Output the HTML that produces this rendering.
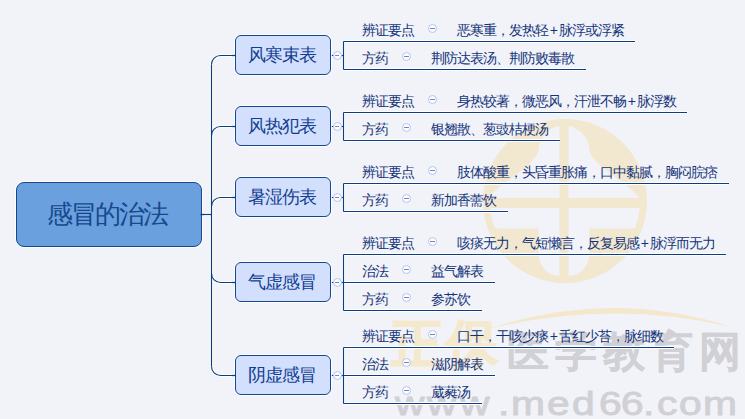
<!DOCTYPE html>
<html><head><meta charset="utf-8">
<style>
html,body{margin:0;padding:0;}
body{width:745px;height:419px;overflow:hidden;background:#f2f3f8;position:relative;font-family:"Liberation Sans",sans-serif;}
.a{position:absolute;white-space:nowrap;}
.node{position:absolute;box-sizing:border-box;border:1.5px solid #15478f;background:#d2dffd;border-radius:6px;color:#123e92;font-size:17px;text-align:center;box-shadow:0 0 0 1px rgba(255,255,255,0.85);}
.t{position:absolute;white-space:nowrap;font-size:14px;letter-spacing:-1px;color:#12337a;line-height:14px;}
.c{position:absolute;box-sizing:border-box;border:1.2px solid #b3c6ef;border-radius:50%;background:#fbfcff;}
.c i{position:absolute;height:1.2px;background:#7d84b6;}
svg{position:absolute;left:0;top:0;}
</style></head><body>

<svg width="745" height="419" viewBox="0 0 745 419">
<defs><clipPath id="inner"><circle cx="565" cy="201" r="75"/></clipPath><clipPath id="disc"><circle cx="565" cy="201" r="82"/></clipPath></defs>
<circle cx="565" cy="201" r="82" fill="#f2e7cf"/>
<g clip-path="url(#inner)" fill="#f2f3f8">
<path d="M538.5 151 A25.5 25.5 0 0 1 589.5 151 C595 168 625 180 640 198 H488 C503 180 533 168 538.5 151 Z"/>
<path d="M480 208 H650 V212 Q650 228.5 630 228.5 H589.5 V253 A25.5 25.5 0 0 1 538.5 253 V228.5 H500 Q480 228.5 480 212 Z"/>
</g>
<g clip-path="url(#disc)" fill="#f2e7cf"><rect x="559.5" y="110" width="9" height="180"/></g>
<path d="M488 329 Q610 288 732 327 Q610 299 488 329 Z" fill="#f3e7cc"/>
</svg>
<div class="a" style="left:391px;top:314px;font-size:52px;line-height:60px;color:#f4e8cd;font-weight:bold;letter-spacing:3px;-webkit-text-stroke:1.5px #f4e8cd;">正保</div>
<div class="a" style="left:507px;top:326px;font-size:42px;line-height:52px;color:#d0d0d5;font-weight:bold;letter-spacing:6px;-webkit-text-stroke:0.3px #d0d0d5;">医学教育网</div>
<div class="a" style="left:394.5px;top:383px;font-size:34px;line-height:40px;color:#d0d0d5;font-weight:normal;-webkit-text-stroke:0.9px #d0d0d5;transform:scaleX(1.2);transform-origin:0 0;">w</div>
<div class="a" style="left:427px;top:383px;font-size:34px;line-height:40px;color:#d0d0d5;font-weight:normal;-webkit-text-stroke:0.9px #d0d0d5;transform:scaleX(1.2);transform-origin:0 0;">w</div>
<div class="a" style="left:459.5px;top:383px;font-size:34px;line-height:40px;color:#d0d0d5;font-weight:normal;-webkit-text-stroke:0.9px #d0d0d5;transform:scaleX(1.2);transform-origin:0 0;">w</div>
<div class="a" style="left:498px;top:383px;font-size:34px;line-height:40px;color:#d0d0d5;font-weight:normal;-webkit-text-stroke:0.9px #d0d0d5;transform:scaleX(1.2);transform-origin:0 0;">.</div>
<div class="a" style="left:510.5px;top:383px;font-size:34px;line-height:40px;color:#d0d0d5;font-weight:normal;-webkit-text-stroke:0.9px #d0d0d5;transform:scaleX(1.2);transform-origin:0 0;">m</div>
<div class="a" style="left:547px;top:383px;font-size:34px;line-height:40px;color:#d0d0d5;font-weight:normal;-webkit-text-stroke:0.9px #d0d0d5;transform:scaleX(1.2);transform-origin:0 0;">e</div>
<div class="a" style="left:572px;top:383px;font-size:34px;line-height:40px;color:#d0d0d5;font-weight:normal;-webkit-text-stroke:0.9px #d0d0d5;transform:scaleX(1.2);transform-origin:0 0;">d</div>
<div class="a" style="left:598.5px;top:383px;font-size:34px;line-height:40px;color:#d0d0d5;font-weight:normal;-webkit-text-stroke:0.9px #d0d0d5;transform:scaleX(1.2);transform-origin:0 0;">6</div>
<div class="a" style="left:621px;top:383px;font-size:34px;line-height:40px;color:#d0d0d5;font-weight:normal;-webkit-text-stroke:0.9px #d0d0d5;transform:scaleX(1.2);transform-origin:0 0;">6</div>
<div class="a" style="left:642.5px;top:383px;font-size:34px;line-height:40px;color:#d0d0d5;font-weight:normal;-webkit-text-stroke:0.9px #d0d0d5;transform:scaleX(1.2);transform-origin:0 0;">.</div>
<div class="a" style="left:656.5px;top:383px;font-size:34px;line-height:40px;color:#d0d0d5;font-weight:normal;-webkit-text-stroke:0.9px #d0d0d5;transform:scaleX(1.2);transform-origin:0 0;">c</div>
<div class="a" style="left:678.5px;top:383px;font-size:34px;line-height:40px;color:#d0d0d5;font-weight:normal;-webkit-text-stroke:0.9px #d0d0d5;transform:scaleX(1.2);transform-origin:0 0;">o</div>
<div class="a" style="left:702.5px;top:383px;font-size:34px;line-height:40px;color:#d0d0d5;font-weight:normal;-webkit-text-stroke:0.9px #d0d0d5;transform:scaleX(1.2);transform-origin:0 0;">m</div>
<svg width="745" height="419" viewBox="0 0 745 419" fill="none" stroke="#0b3d80" stroke-width="1.15">
<g stroke="#ffffff" stroke-width="3.2"><path d="M202 214.5 H211.5"/><path d="M211.5 64.5 V366.5"/><path d="M211.5 64.5 A9 9 0 0 1 220.5 55.5 H236"/><path d="M211.5 135.5 A9 9 0 0 1 220.5 126.5 H236"/><path d="M211.5 206.5 A9 9 0 0 1 220.5 197.5 H236"/><path d="M211.5 273.5 A9 9 0 0 0 220.5 282.5 H236"/><path d="M211.5 366.5 A9 9 0 0 0 220.5 375.5 H236"/><path d="M331 55.5 H343.5"/><path d="M343.5 41.5 V69.5"/><path d="M343.5 41.5 H635"/><path d="M343.5 69.5 H586"/><path d="M331 126.5 H343.5"/><path d="M343.5 112.5 V140.5"/><path d="M343.5 112.5 H687"/><path d="M343.5 140.5 H560"/><path d="M331 197.5 H343.5"/><path d="M343.5 183.5 V211.5"/><path d="M343.5 183.5 H729"/><path d="M343.5 211.5 H508"/><path d="M331 282.5 H343.5"/><path d="M343.5 254.5 V310.5"/><path d="M343.5 254.5 H726"/><path d="M343.5 282.5 H495"/><path d="M343.5 310.5 H482"/><path d="M331 375.5 H343.5"/><path d="M343.5 347.5 V403.5"/><path d="M343.5 347.5 H674"/><path d="M343.5 375.5 H495"/><path d="M343.5 403.5 H482"/></g>
<g><path d="M202 214.5 H211.5"/><path d="M211.5 64.5 V366.5"/><path d="M211.5 64.5 A9 9 0 0 1 220.5 55.5 H236"/><path d="M211.5 135.5 A9 9 0 0 1 220.5 126.5 H236"/><path d="M211.5 206.5 A9 9 0 0 1 220.5 197.5 H236"/><path d="M211.5 273.5 A9 9 0 0 0 220.5 282.5 H236"/><path d="M211.5 366.5 A9 9 0 0 0 220.5 375.5 H236"/><path d="M331 55.5 H343.5"/><path d="M343.5 41.5 V69.5"/><path d="M343.5 41.5 H635"/><path d="M343.5 69.5 H586"/><path d="M331 126.5 H343.5"/><path d="M343.5 112.5 V140.5"/><path d="M343.5 112.5 H687"/><path d="M343.5 140.5 H560"/><path d="M331 197.5 H343.5"/><path d="M343.5 183.5 V211.5"/><path d="M343.5 183.5 H729"/><path d="M343.5 211.5 H508"/><path d="M331 282.5 H343.5"/><path d="M343.5 254.5 V310.5"/><path d="M343.5 254.5 H726"/><path d="M343.5 282.5 H495"/><path d="M343.5 310.5 H482"/><path d="M331 375.5 H343.5"/><path d="M343.5 347.5 V403.5"/><path d="M343.5 347.5 H674"/><path d="M343.5 375.5 H495"/><path d="M343.5 403.5 H482"/></g>
</svg>
<div class="node" style="left:16px;top:182px;width:186px;height:65px;background:#6aa0dd;border-radius:8px;font-size:26px;letter-spacing:-2px;text-indent:0px;padding-right:4px;line-height:63px;color:#16488e;">感冒的治法</div>
<div class="node" style="left:235px;top:35px;width:96px;height:40px;line-height:38.6px;font-size:18px;letter-spacing:-1px;padding-right:2px;">风寒束表</div>
<div class="c" style="left:332.9px;top:51.0px;width:9px;height:9px;"><i style="left:1.5px;top:3px;width:4px"></i></div>
<div class="t" style="left:362px;top:22.5px;">辨证要点</div>
<div class="c" style="left:428.0px;top:24.0px;width:9px;height:9px;"><i style="left:1px;top:3px;width:5px"></i></div>
<div class="t" style="left:457px;top:22.5px;">恶寒重，发热轻<span style="margin:0 1.7px">+</span>脉浮或浮紧</div>
<div class="t" style="left:362px;top:50.5px;">方药</div>
<div class="c" style="left:402.0px;top:52.0px;width:9px;height:9px;"><i style="left:1px;top:3px;width:5px"></i></div>
<div class="t" style="left:431px;top:50.5px;">荆防达表汤、荆防败毒散</div>
<div class="node" style="left:235px;top:106px;width:96px;height:40px;line-height:38.6px;font-size:18px;letter-spacing:-1px;padding-right:2px;">风热犯表</div>
<div class="c" style="left:332.9px;top:122.0px;width:9px;height:9px;"><i style="left:1.5px;top:3px;width:4px"></i></div>
<div class="t" style="left:362px;top:93.5px;">辨证要点</div>
<div class="c" style="left:428.0px;top:95.0px;width:9px;height:9px;"><i style="left:1px;top:3px;width:5px"></i></div>
<div class="t" style="left:457px;top:93.5px;">身热较著，微恶风，汗泄不畅<span style="margin:0 1.7px">+</span>脉浮数</div>
<div class="t" style="left:362px;top:121.5px;">方药</div>
<div class="c" style="left:402.0px;top:123.0px;width:9px;height:9px;"><i style="left:1px;top:3px;width:5px"></i></div>
<div class="t" style="left:431px;top:121.5px;">银翘散、葱豉桔梗汤</div>
<div class="node" style="left:235px;top:177px;width:96px;height:40px;line-height:38.6px;font-size:18px;letter-spacing:-1px;padding-right:2px;">暑湿伤表</div>
<div class="c" style="left:332.9px;top:193.0px;width:9px;height:9px;"><i style="left:1.5px;top:3px;width:4px"></i></div>
<div class="t" style="left:362px;top:164.5px;">辨证要点</div>
<div class="c" style="left:428.0px;top:166.0px;width:9px;height:9px;"><i style="left:1px;top:3px;width:5px"></i></div>
<div class="t" style="left:457px;top:164.5px;">肢体酸重，头昏重胀痛，口中黏腻，胸闷脘痞</div>
<div class="t" style="left:362px;top:192.5px;">方药</div>
<div class="c" style="left:402.0px;top:194.0px;width:9px;height:9px;"><i style="left:1px;top:3px;width:5px"></i></div>
<div class="t" style="left:431px;top:192.5px;">新加香薷饮</div>
<div class="node" style="left:235px;top:262px;width:96px;height:40px;line-height:38.6px;font-size:18px;letter-spacing:-1px;padding-right:2px;">气虚感冒</div>
<div class="c" style="left:332.9px;top:278.0px;width:9px;height:9px;"><i style="left:1.5px;top:3px;width:4px"></i></div>
<div class="t" style="left:362px;top:235.5px;">辨证要点</div>
<div class="c" style="left:428.0px;top:237.0px;width:9px;height:9px;"><i style="left:1px;top:3px;width:5px"></i></div>
<div class="t" style="left:457px;top:235.5px;">咳痰无力，气短懒言，反复易感<span style="margin:0 1.7px">+</span>脉浮而无力</div>
<div class="t" style="left:362px;top:263.5px;">治法</div>
<div class="c" style="left:402.0px;top:265.0px;width:9px;height:9px;"><i style="left:1px;top:3px;width:5px"></i></div>
<div class="t" style="left:431px;top:263.5px;">益气解表</div>
<div class="t" style="left:362px;top:291.5px;">方药</div>
<div class="c" style="left:402.0px;top:293.0px;width:9px;height:9px;"><i style="left:1px;top:3px;width:5px"></i></div>
<div class="t" style="left:431px;top:291.5px;">参苏饮</div>
<div class="node" style="left:235px;top:355px;width:96px;height:40px;line-height:38.6px;font-size:18px;letter-spacing:-1px;padding-right:2px;">阴虚感冒</div>
<div class="c" style="left:332.9px;top:371.0px;width:9px;height:9px;"><i style="left:1.5px;top:3px;width:4px"></i></div>
<div class="t" style="left:362px;top:328.5px;">辨证要点</div>
<div class="c" style="left:428.0px;top:330.0px;width:9px;height:9px;"><i style="left:1px;top:3px;width:5px"></i></div>
<div class="t" style="left:457px;top:328.5px;">口干，干咳少痰<span style="margin:0 1.7px">+</span>舌红少苔，脉细数</div>
<div class="t" style="left:362px;top:356.5px;">治法</div>
<div class="c" style="left:402.0px;top:358.0px;width:9px;height:9px;"><i style="left:1px;top:3px;width:5px"></i></div>
<div class="t" style="left:431px;top:356.5px;">滋阴解表</div>
<div class="t" style="left:362px;top:384.5px;">方药</div>
<div class="c" style="left:402.0px;top:386.0px;width:9px;height:9px;"><i style="left:1px;top:3px;width:5px"></i></div>
<div class="t" style="left:431px;top:384.5px;">葳蕤汤</div>
<svg width="745" height="419" viewBox="0 0 745 419" fill="none" stroke="#0b3d80" stroke-width="1.3"><path d="M232 55.5 H236"/><path d="M232 126.5 H236"/><path d="M232 197.5 H236"/><path d="M232 282.5 H236"/><path d="M232 375.5 H236"/><path d="M200.5 214.5 H204"/></svg>
</body></html>
